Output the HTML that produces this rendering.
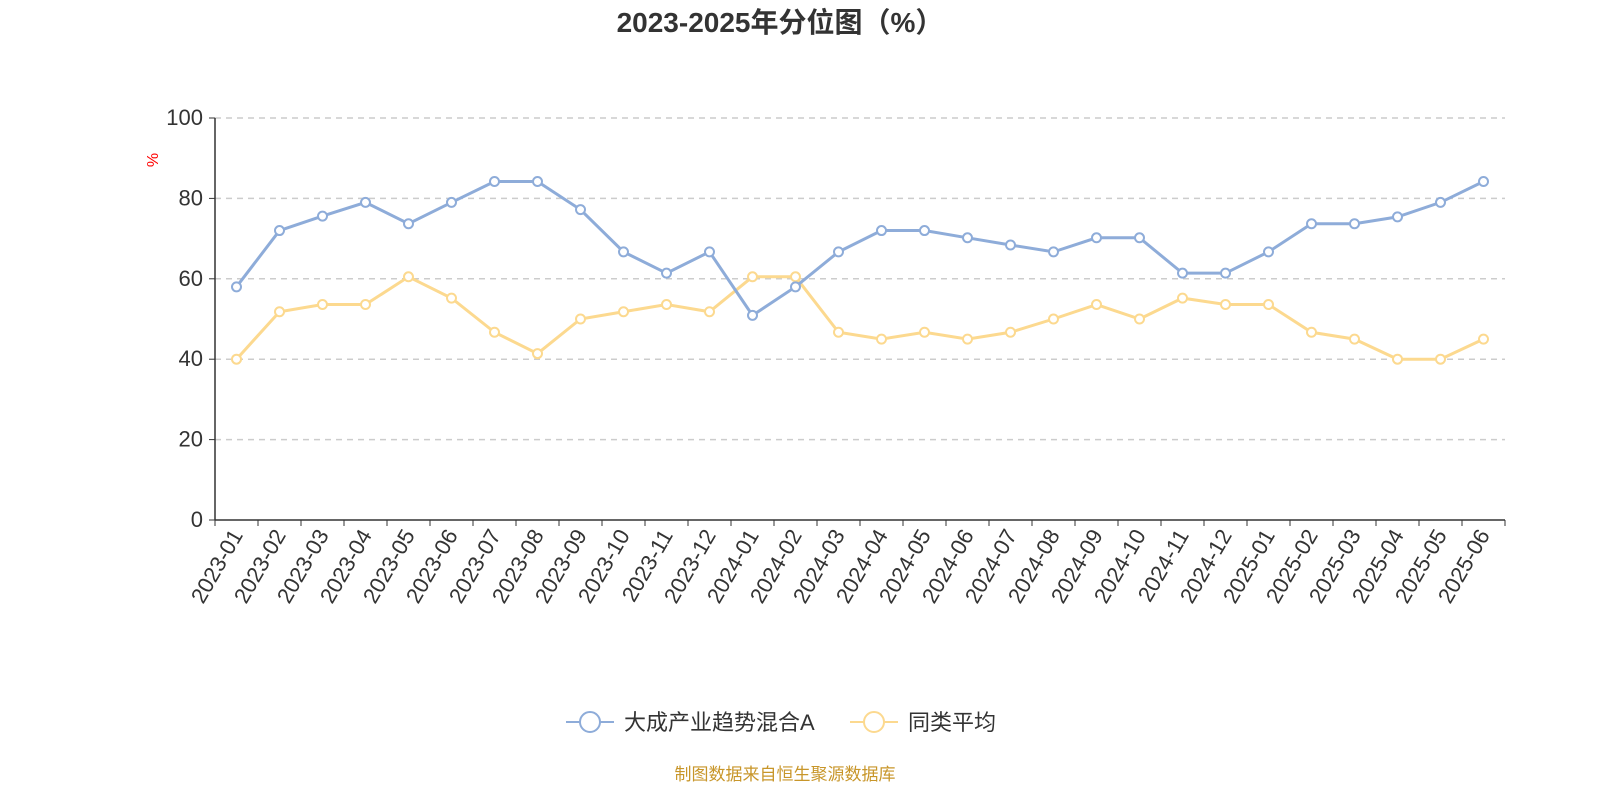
<!DOCTYPE html>
<html><head><meta charset="utf-8"><style>
body{margin:0;background:#fff;}
svg{display:block;font-family:"Liberation Sans","Noto Sans CJK SC",sans-serif;}
</style></head><body>
<svg id="chart" width="1600" height="800" viewBox="0 0 1600 800">
<text x="780" y="32" text-anchor="middle" font-size="28" font-weight="bold" fill="#333">2023-2025年分位图（%）</text>
<text x="158" y="160" font-size="16" fill="red" transform="rotate(-90 158 160)" text-anchor="middle">%</text>
<g id="grid"></g><g id="axes"></g><g id="series"></g>
<g>
<g>
<line x1="566" y1="722" x2="614" y2="722" stroke="#8eacd9" stroke-width="2"/>
<circle cx="590" cy="722" r="10" fill="#fff" stroke="#8eacd9" stroke-width="2"/>
<text x="624" y="730" font-size="22" fill="#333">大成产业趋势混合A</text></g>
<g>
<line x1="850" y1="722" x2="898" y2="722" stroke="#fcd98f" stroke-width="2"/>
<circle cx="874" cy="722" r="10" fill="#fff" stroke="#fcd98f" stroke-width="2"/>
<text x="908" y="730" font-size="22" fill="#333">同类平均</text></g>
</g>
<text x="785" y="780" text-anchor="middle" font-size="17" fill="#c8962a">制图数据来自恒生聚源数据库</text>
</svg>
<script>
const categories=["2023-01","2023-02","2023-03","2023-04","2023-05","2023-06","2023-07","2023-08","2023-09","2023-10","2023-11","2023-12","2024-01","2024-02","2024-03","2024-04","2024-05","2024-06","2024-07","2024-08","2024-09","2024-10","2024-11","2024-12","2025-01","2025-02","2025-03","2025-04","2025-05","2025-06"];
const fundValues=[58,72,75.6,79,73.7,79,84.2,84.2,77.2,66.7,61.4,66.7,50.9,58,66.7,72,72,70.2,68.4,66.7,70.2,70.2,61.4,61.4,66.7,73.7,73.7,75.4,79,84.2];
const avgValues=[40,51.8,53.6,53.6,60.5,55.2,46.7,41.4,50,51.8,53.6,51.8,60.5,60.5,46.7,45,46.7,45,46.7,50,53.6,50,55.2,53.6,53.6,46.7,45,40,40,45];
const yTicks=[0,20,40,60,80,100];
const NS="http://www.w3.org/2000/svg";
const X0=215,X1=1505,Y0=520,Y1=118;
const bw=(X1-X0)/categories.length;
const x=i=>X0+bw*(i+0.5);
const y=v=>Y0-(v/100)*(Y0-Y1);
function mk(t,a,p){const e=document.createElementNS(NS,t);for(const k in a)e.setAttribute(k,a[k]);p.appendChild(e);return e;}
const grid=document.getElementById('grid'),axes=document.getElementById('axes'),series=document.getElementById('series');
yTicks.forEach(v=>{
 if(v>0){const g=mk('line',{x1:X0,x2:X1,y1:y(v),y2:y(v),stroke:'#ccc','stroke-width':1.5,'stroke-dasharray':'6,5'},grid);
 
 }
 const tk=mk('line',{x1:X0-6,x2:X0,y1:y(v),y2:y(v),stroke:'#333'},axes);
 
 
 const t=mk('text',{x:X0-12,y:y(v)+7,'text-anchor':'end','font-size':22,fill:'#333'},axes);t.textContent=v;
 
 
});
const ya=mk('line',{x1:X0,x2:X0,y1:Y1,y2:Y0,stroke:'#333','stroke-width':1.5},axes);


const xa=mk('line',{x1:X0,x2:X1,y1:Y0,y2:Y0,stroke:'#333','stroke-width':1.5},axes);


for(let i=0;i<=categories.length;i++){const tk=mk('line',{x1:X0+bw*i,x2:X0+bw*i,y1:Y0,y2:Y0+6,stroke:'#333'},axes);
 
 }
categories.forEach((c,i)=>{const px=x(i)+2,py=Y0+12;
 const t=mk('text',{x:px,y:py,'text-anchor':'end','dominant-baseline':'middle','font-size':22,fill:'#333',transform:`rotate(-60 ${px} ${py})`},axes);t.textContent=c;
 
 });
function draw(vals,col,name){
 const p=mk('polyline',{points:vals.map((v,i)=>x(i)+','+y(v)).join(' '),fill:'none',stroke:col,'stroke-width':3},series);
 
 
 vals.forEach((v,i)=>{const c=mk('circle',{cx:x(i),cy:y(v),r:4.5,fill:'#fff',stroke:col,'stroke-width':2},series);
 
 });
}
draw(avgValues,'#fcd98f','average');
draw(fundValues,'#8eacd9','fund');
</script>
</body></html>
